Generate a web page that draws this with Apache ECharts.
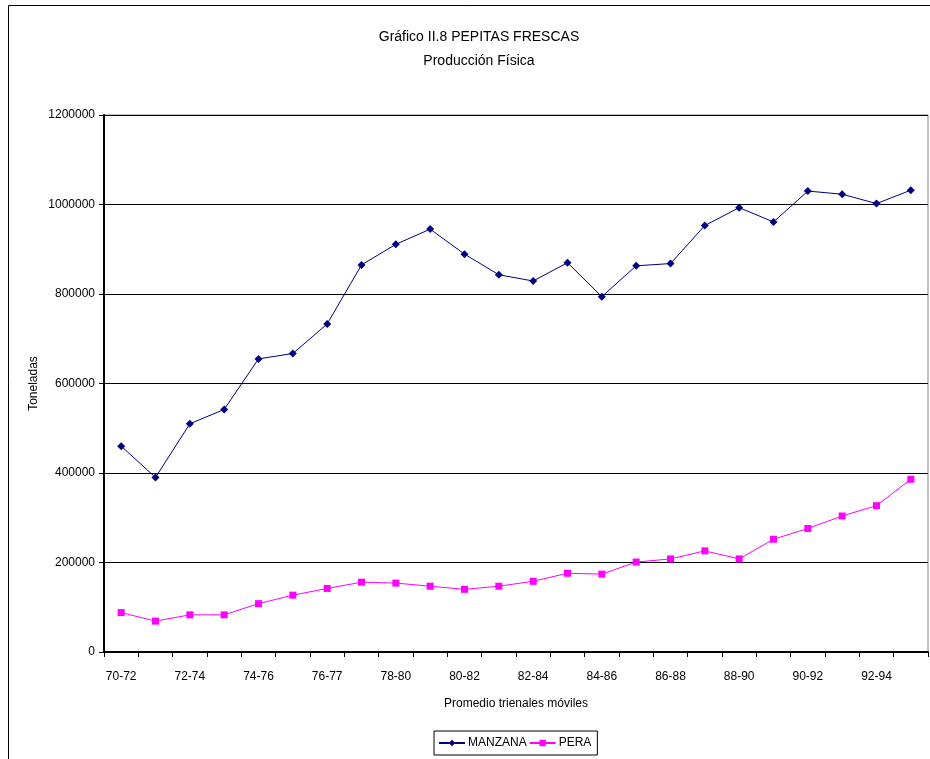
<!DOCTYPE html>
<html>
<head>
<meta charset="utf-8">
<script src="https://cdn.jsdelivr.net/npm/echarts@6/dist/echarts.min.js"></script>
<style>
  html, body { margin: 0; padding: 0; background: #fff; }
  #chart { width: 930px; height: 759px; }
</style>
</head>
<body>
<div id="chart"></div>
<script>
// categorias: promedios trienales moviles (solo se rotula una de cada dos)
const periodos = ['70-72', '71-73', '72-74', '73-75', '74-76', '75-77', '76-77', '77-79',
  '78-80', '79-81', '80-82', '81-83', '82-84', '83-85', '84-86', '85-87',
  '86-88', '87-89', '88-90', '89-91', '90-92', '91-93', '92-94', '93-95'];

const manzana = [460000, 390000, 510000, 542000, 655000, 667000, 733000, 865000,
  911000, 945000, 889000, 843000, 829000, 870000, 794000, 863000,
  868000, 953000, 993000, 961000, 1030000, 1023000, 1002000, 1032000];

const pera = [88000, 69000, 83000, 83000, 108000, 127000, 142000, 156000,
  154000, 147000, 140000, 147000, 158000, 176000, 174000, 201000,
  208000, 226000, 208000, 252000, 276000, 304000, 327000, 386000];

const yTicks = [0, 200000, 400000, 600000, 800000, 1000000, 1200000];

const font = 'Liberation Sans, Arial, sans-serif';
const myChart = echarts.init(document.getElementById('chart'));

const option = {
  backgroundColor: '#fff',
  animation: false,
  graphic: [{
    type: 'rect',
    shape: { x: 8.5, y: 5.5, width: 1000, height: 1000 },
    style: { fill: 'none', stroke: '#000', lineWidth: 1 },
    silent: true
  }],
  title: {
    text: 'Gráfico II.8 PEPITAS FRESCAS\nProducción Física',
    left: 474,
    textAlign: 'center',
    top: 20,
    textStyle: { fontFamily: font, fontSize: 14, fontWeight: 'normal', color: '#000', lineHeight: 24 }
  },
  legend: {
    bottom: 4,
    left: 434,
    itemWidth: 26,
    itemHeight: 8,
    itemGap: 2,
    padding: [6, 6, 6, 4],
    borderColor: '#000',
    borderWidth: 1,
    textStyle: { fontFamily: font, fontSize: 12, color: '#000', padding: [0, 0, 0, -2] },
    data: ['MANZANA', 'PERA']
  },
  grid: {
    left: 104, right: 2, top: 115, bottom: 107,
    show: true, borderColor: '#808080', borderWidth: 1
  },
  xAxis: {
    type: 'category',
    data: periodos,
    boundaryGap: true,
    name: 'Promedio trienales móviles',
    nameLocation: 'middle',
    nameGap: 46,
    nameMoveOverlap: false,
    nameTextStyle: { fontFamily: font, fontSize: 12, color: '#000' },
    axisLine: { lineStyle: { color: '#000', width: 2 } },
    axisTick: { show: true, length: 5, alignWithLabel: false, interval: 0, lineStyle: { color: '#000' } },
    axisLabel: { interval: 1, fontFamily: font, fontSize: 12, color: '#000', margin: 19 }
  },
  yAxis: {
    type: 'value',
    min: yTicks[0],
    max: yTicks[yTicks.length - 1],
    interval: yTicks[1] - yTicks[0],
    name: 'Toneladas',
    nameLocation: 'middle',
    nameGap: 64,
    nameMoveOverlap: false,
    nameRotate: 90,
    nameTextStyle: { fontFamily: font, fontSize: 12, color: '#000' },
    axisLine: { show: true, lineStyle: { color: '#000', width: 2 } },
    axisTick: { show: true, length: 5, inside: false, lineStyle: { color: '#000' } },
    axisLabel: { fontFamily: font, fontSize: 12, color: '#000', margin: 9, formatter: v => String(v) },
    splitLine: { show: true, lineStyle: { color: '#000', width: 1 } }
  },
  series: [
    {
      name: 'MANZANA',
      type: 'line',
      data: manzana,
      symbol: 'diamond',
      symbolSize: 8,
      itemStyle: { color: '#000080' },
      lineStyle: { color: '#000080', width: 1 }
    },
    {
      name: 'PERA',
      type: 'line',
      data: pera,
      symbol: 'rect',
      symbolSize: 7,
      itemStyle: { color: '#ff00ff' },
      lineStyle: { color: '#ff00ff', width: 1 }
    }
  ]
};

option && myChart.setOption(option);
</script>
</body>
</html>
